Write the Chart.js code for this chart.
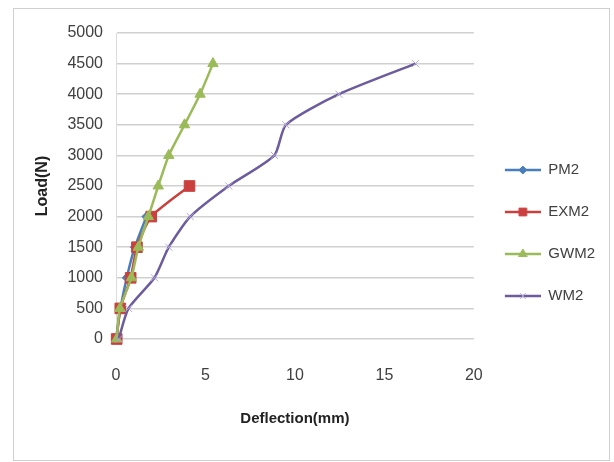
<!DOCTYPE html>
<html>
<head>
<meta charset="utf-8">
<script src="https://cdn.jsdelivr.net/npm/chart.js@4.4.1/dist/chart.umd.min.js"></script>
<style>
html, body { margin: 0; padding: 0; background: #fff; }
#wrap { position: relative; width: 614px; height: 462px; }
#frame { position: absolute; left: 13px; top: 8px; width: 597px; height: 453px; border: 1px solid #d0d0d0; box-sizing: border-box; }
canvas { position: absolute; left: 0; top: 0; }
</style>
</head>
<body>
<div id="wrap"><div id="frame"></div><canvas id="chart" width="614" height="462"></canvas></div>
<script>
// load steps (N) and measured deflections (mm) for each specimen
var loads = [0, 500, 1000, 1500, 2000, 2500, 3000, 3500, 4000, 4500];
var pm2Defl = [0, 0.25, 0.6, 1.05, 1.7];
var exm2Defl = [0.04, 0.24, 0.82, 1.17, 1.97, 4.11];
var gwm2Defl = [0.04, 0.22, 0.86, 1.25, 1.81, 2.36, 2.95, 3.83, 4.70, 5.42];
var wm2Defl = [0.15, 0.7, 2.15, 2.95, 4.15, 6.3, 8.85, 9.5, 12.46, 16.74];
var seriesNames = ["PM2", "EXM2", "GWM2", "WM2"];
var xTicks = [0, 5, 10, 15, 20];
var yTicks = [0, 500, 1000, 1500, 2000, 2500, 3000, 3500, 4000, 4500, 5000];

var FONT = "'Liberation Sans', Arial, sans-serif";

function pts(defl) {
    return defl.map(function(d, i) { return {x: d, y: loads[i]}; });
}

// little legend icon: line with the marker in the middle
function legendIcon(ds) {
    var c = document.createElement('canvas');
    c.width = 40; c.height = 16;
    var ctx = c.getContext('2d');
    ctx.strokeStyle = ds.borderColor;
    ctx.lineWidth = 2.5;
    ctx.beginPath();
    ctx.moveTo(4, 8); ctx.lineTo(40, 8);
    ctx.stroke();
    ctx.fillStyle = ds.pointBackgroundColor;
    ctx.strokeStyle = ds.pointBorderColor;
    ctx.lineWidth = ds.pointBorderWidth;
    Chart.helpers.drawPoint(ctx, {pointStyle: ds.pointStyle, radius: ds.legendRadius, rotation: 0, borderWidth: ds.pointBorderWidth}, 22, 8);
    return c;
}

var datasets = [
    {
        label: seriesNames[0], data: pts(pm2Defl), order: 3,
        borderColor: '#4a7ebb', pointBackgroundColor: '#4a7ebb', pointBorderColor: '#4a7ebb',
        pointStyle: 'rectRot', pointRadius: 4.5, pointBorderWidth: 1, legendRadius: 4, tension: 0.2
    },
    {
        label: seriesNames[1], data: pts(exm2Defl), order: 2,
        borderColor: '#c9403e', pointBackgroundColor: '#c9403e', pointBorderColor: '#c9403e',
        pointStyle: 'rect', pointRadius: 7.5, pointBorderWidth: 1, legendRadius: 5.5, tension: 0.2
    },
    {
        label: seriesNames[2], data: pts(gwm2Defl), order: 1,
        borderColor: '#9bbb59', pointBackgroundColor: '#9bbb59', pointBorderColor: '#9bbb59',
        pointStyle: 'triangle', pointRadius: 6, pointBorderWidth: 1, legendRadius: 5, tension: 0.2
    },
    {
        label: seriesNames[3], data: pts(wm2Defl), order: 0,
        borderColor: '#6c5c9e', pointBackgroundColor: '#b0a4d4', pointBorderColor: '#b0a4d4',
        pointStyle: 'crossRot', pointRadius: 5, pointBorderWidth: 1, legendRadius: 4, tension: 0.22
    }
];
datasets.forEach(function(ds) {
    ds.showLine = true;
    ds.borderWidth = 2.5;
    ds.fill = false;
    ds.clip = false;
    ds.pointHoverRadius = ds.pointRadius;
});

var chart = new Chart(document.getElementById('chart'), {
    type: 'scatter',
    data: {datasets: datasets},
    options: {
        responsive: false,
        animation: false,
        layout: {padding: {top: 33, right: 9, bottom: 29, left: 10}},
        plugins: {
            tooltip: {enabled: false},
            legend: {
                position: 'right',
                labels: {
                    usePointStyle: true,
                    pointStyleWidth: 40,
                    padding: 27,
                    color: '#404040',
                    font: {family: FONT, size: 15},
                    sort: function(a, b) { return a.datasetIndex - b.datasetIndex; },
                    generateLabels: function(ch) {
                        return ch.data.datasets.map(function(ds, i) {
                            return {
                                text: ds.label, datasetIndex: i,
                                pointStyle: legendIcon(ds),
                                fillStyle: ds.borderColor, strokeStyle: ds.borderColor,
                                lineWidth: 0, hidden: false, fontColor: '#404040'
                            };
                        });
                    }
                }
            }
        },
        scales: {
            x: {
                type: 'linear', min: 0, max: 20,
                afterBuildTicks: function(s) { s.ticks = xTicks.map(function(v) { return {value: v}; }); },
                afterFit: function(s) { s.height = 94; },
                grid: {display: false, drawTicks: false},
                border: {display: false},
                ticks: {padding: 27, color: '#404040', font: {family: FONT, size: 16},
                        callback: function(v) { return String(v); }},
                title: {display: true, text: 'Deflection(mm)', color: '#222', padding: {top: 0, bottom: 5},
                        font: {family: FONT, size: 15, weight: 'bold'}}
            },
            y: {
                type: 'linear', min: 0, max: 5000,
                afterBuildTicks: function(s) { s.ticks = yTicks.map(function(v) { return {value: v}; }); },
                afterFit: function(s) { s.width = 106; },
                grid: {color: '#d0d0d0', lineWidth: 1.6, drawTicks: false},
                border: {display: true, color: '#dcdcdc', width: 1},
                ticks: {padding: 13, color: '#404040', font: {family: FONT, size: 16},
                        callback: function(v) { return String(v); }},
                title: {display: true, text: 'Load(N)', color: '#222', padding: {top: 23, bottom: 0},
                        font: {family: FONT, size: 16, weight: 'bold'}}
            }
        }
    }
});
</script>
</body>
</html>
